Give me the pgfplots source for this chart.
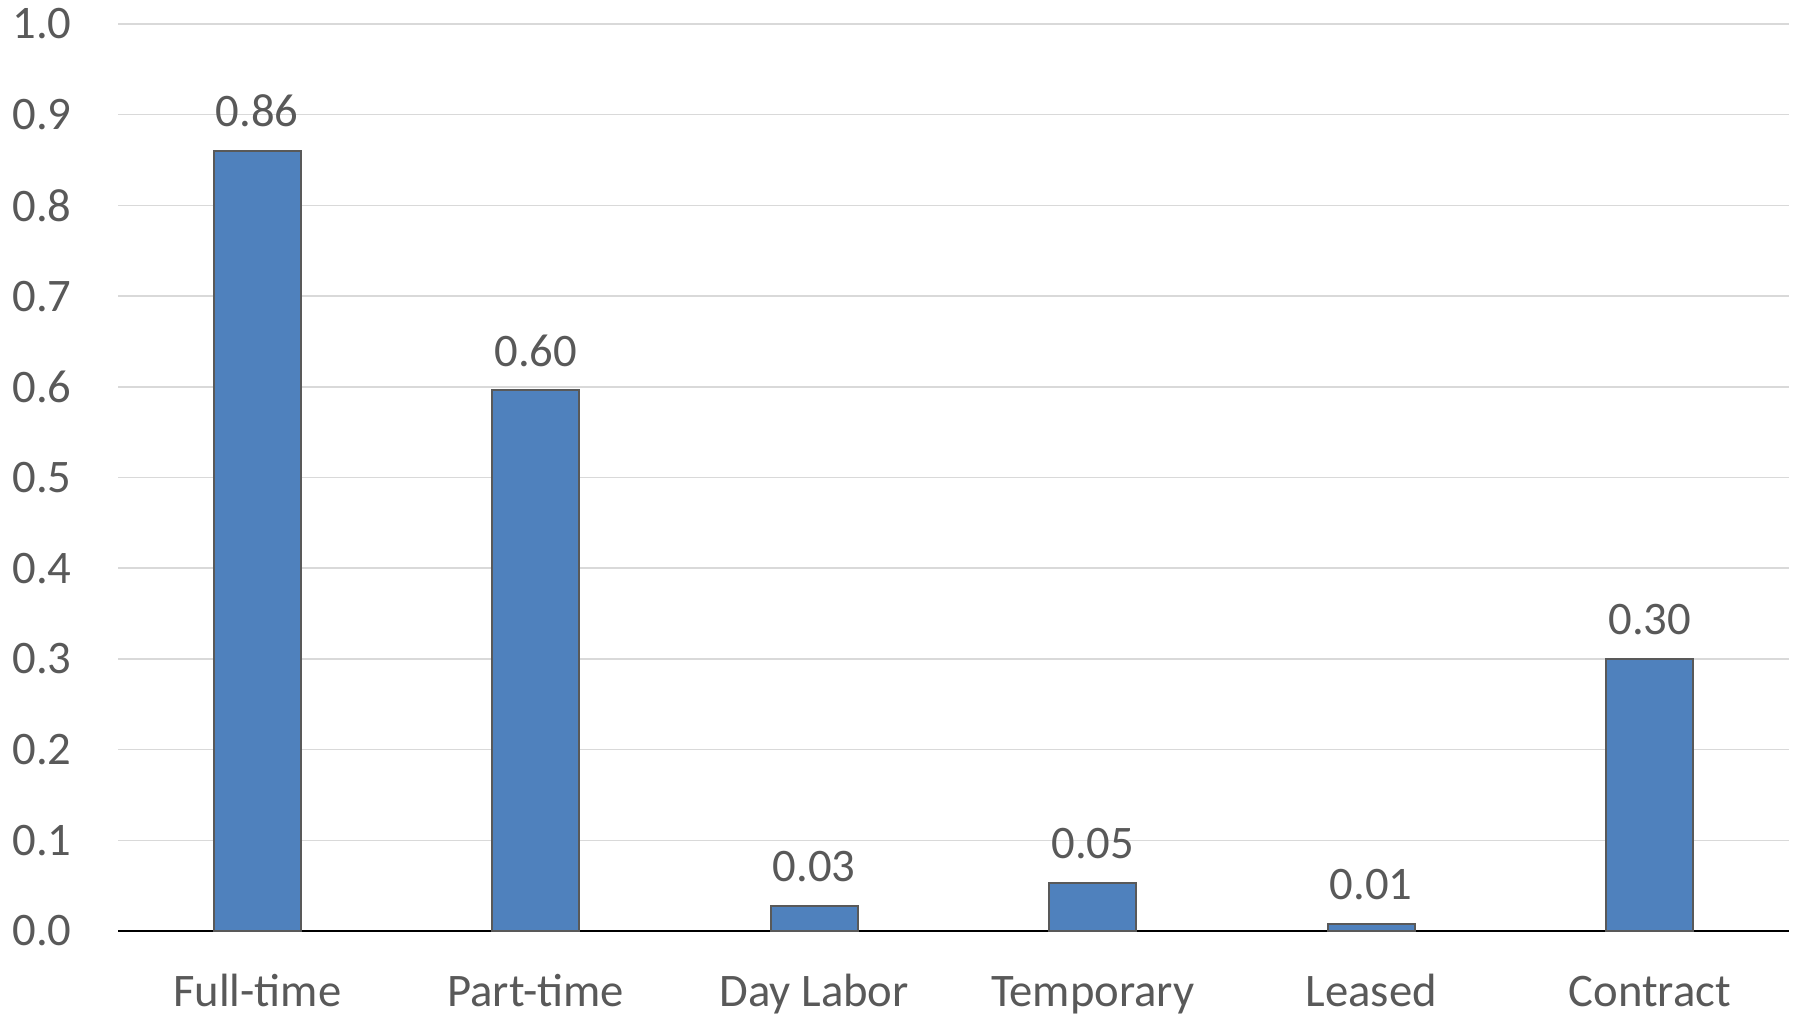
\documentclass[border=0pt]{standalone}
\usepackage{pgfplots}
\pgfplotsset{compat=1.18}
\usepackage{fontspec}
\setmainfont{Carlito}
\definecolor{txt}{HTML}{595959}
\definecolor{barfill}{HTML}{4F81BD}
\definecolor{baredge}{HTML}{595959}
\definecolor{gridc}{HTML}{D9D9D9}
\begin{document}
\fontsize{14pt}{16pt}\selectfont
\begin{tikzpicture}
\begin{axis}[
  at={(35.4pt,26.1pt)}, anchor=south west,
  scale only axis, width=501.3pt, height=272.1pt,
  xmin=-0.5, xmax=5.5, ymin=0, ymax=1.0,
  xtick={0,1,2,3,4,5},
  xticklabels={Full-time,Part-time,Day Labor,Temporary,Leased,Contract},
  ytick={0,0.1,...,1.0},
  /pgf/number format/assume math mode=true,
  yticklabel style={/pgf/number format/fixed,/pgf/number format/fixed zerofill,/pgf/number format/precision=1, text=txt, font=\fontsize{14pt}{16pt}\selectfont, anchor=east, xshift=-9.1pt},
  xticklabel style={text=txt, font=\fontsize{14pt}{16pt}\selectfont, anchor=base, yshift=-18.4pt},
  axis lines*=left,
  y axis line style={draw=none},
  x axis line style={black, line width=0.6pt},
  tick style={draw=none},
  ymajorgrids, grid style={gridc, line width=0.45pt},
  ybar, bar width=26.1pt,
  nodes near coords,
  point meta=explicit symbolic,
  nodes near coords style={anchor=base, yshift=7.2pt, text=txt, font=\fontsize{14pt}{16pt}\selectfont},
  clip=false,
]
\addplot[fill=barfill, draw=baredge, line width=0.6pt] coordinates {
  (0,0.86) [0.86]
  (1,0.596) [0.60]
  (2,0.028) [0.03]
  (3,0.053) [0.05]
  (4,0.008) [0.01]
  (5,0.30) [0.30]
};
\end{axis}
\pgfresetboundingbox
\path[use as bounding box] (0,0) rectangle (539.4pt,305.4pt);
\end{tikzpicture}
\end{document}
